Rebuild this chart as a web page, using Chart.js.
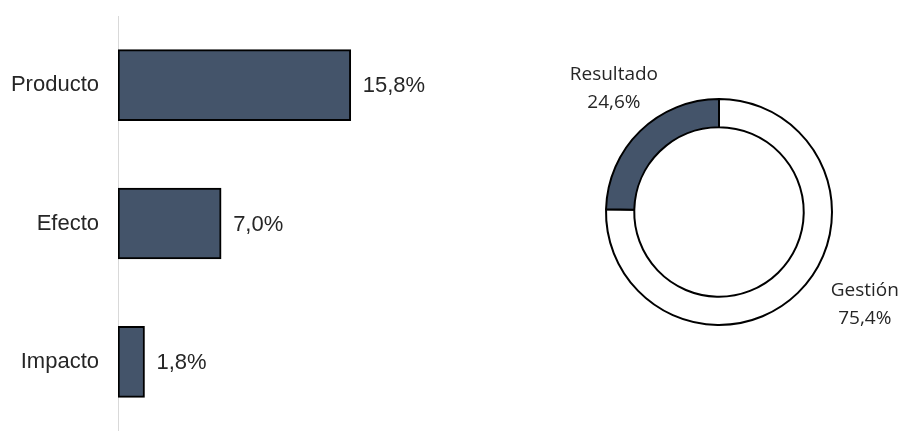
<!DOCTYPE html>
<html>
<head>
<meta charset="utf-8">
<script src="https://cdn.jsdelivr.net/npm/chart.js@4.4.0/dist/chart.umd.min.js"></script>
<style>
  html, body { margin: 0; padding: 0; background: #fff; }
  #wrap { position: relative; width: 906px; height: 431px; overflow: hidden; }
  #bars { position: absolute; left: 0; top: 0; }
  #donut { position: absolute; left: 546px; top: 0; }
</style>
</head>
<body>
<div id="wrap">
  <canvas id="bars" width="560" height="431"></canvas>
  <canvas id="donut" width="360" height="431"></canvas>
</div>
<script>
const barLabels = ['Producto', 'Efecto', 'Impacto'];
const barValues = [15.8, 7.0, 1.8];
const donutLabels = ['Gestión', 'Resultado'];
const donutValues = [75.4, 24.6];

const navy = '#44546a';
const fmt = v => v.toFixed(1).replace('.', ',') + '%';

// value labels to the right of each bar
const barValuePlugin = {
  id: 'barValues',
  afterDatasetsDraw(chart) {
    const ctx = chart.ctx;
    const meta = chart.getDatasetMeta(0);
    ctx.save();
    ctx.font = '22px "Liberation Sans", Arial, sans-serif';
    ctx.fillStyle = '#262626';
    ctx.textAlign = 'left';
    ctx.textBaseline = 'middle';
    meta.data.forEach((bar, i) => {
      ctx.fillText(fmt(barValues[i]), bar.x + 12, bar.y + 1);
    });
    ctx.restore();
  }
};

new Chart(document.getElementById('bars'), {
  type: 'bar',
  data: {
    labels: barLabels,
    datasets: [{
      data: barValues,
      backgroundColor: navy,
      borderColor: '#000',
      borderWidth: 2,
      borderSkipped: false,
      barThickness: 71
    }]
  },
  options: {
    indexAxis: 'y',
    responsive: false,
    animation: false,
    layout: { padding: { top: 16, bottom: 0, left: 0, right: 0 } },
    plugins: { legend: { display: false }, tooltip: { enabled: false } },
    scales: {
      x: { display: false, min: 0, max: 30 },
      y: {
        grid: { display: false, drawTicks: false },
        border: { display: true, color: '#d9d9d9', width: 1 },
        ticks: {
          padding: 19,
          color: '#262626',
          font: { family: '"Liberation Sans", Arial, sans-serif', size: 22 }
        },
        afterFit(s) {
          s.width = 118;
          s.paddingTop = 0;
          s.paddingBottom = 0;
        }
      }
    }
  },
  plugins: [barValuePlugin]
});

// category name + value outside the ring
const donutLabelPlugin = {
  id: 'donutLabels',
  afterDatasetsDraw(chart) {
    const ctx = chart.ctx;
    const arc = chart.getDatasetMeta(0).data[0];
    const cx = arc.x, cy = arc.y, R = arc.outerRadius;
    const offsets = [[1.29, 0.82], [-0.93, -1.09]];
    ctx.save();
    ctx.font = '19px "Open Sans", "Noto Sans", sans-serif';
    ctx.fillStyle = '#262626';
    ctx.textAlign = 'center';
    ctx.textBaseline = 'middle';
    donutLabels.forEach((lab, i) => {
      const x = cx + offsets[i][0] * R;
      const y = cy + offsets[i][1] * R;
      ctx.fillText(lab, x, y - 14);
      ctx.fillText(fmt(donutValues[i]), x, y + 14);
    });
    ctx.restore();
  }
};

new Chart(document.getElementById('donut'), {
  type: 'doughnut',
  data: {
    labels: donutLabels,
    datasets: [{
      data: donutValues,
      backgroundColor: ['#ffffff', navy],
      borderColor: '#000',
      borderWidth: 2
    }]
  },
  options: {
    responsive: false,
    animation: false,
    cutout: '75%',
    layout: { padding: { left: 59, right: 73, top: 98, bottom: 105 } },
    plugins: { legend: { display: false }, tooltip: { enabled: false } }
  },
  plugins: [donutLabelPlugin]
});
</script>
</body>
</html>
